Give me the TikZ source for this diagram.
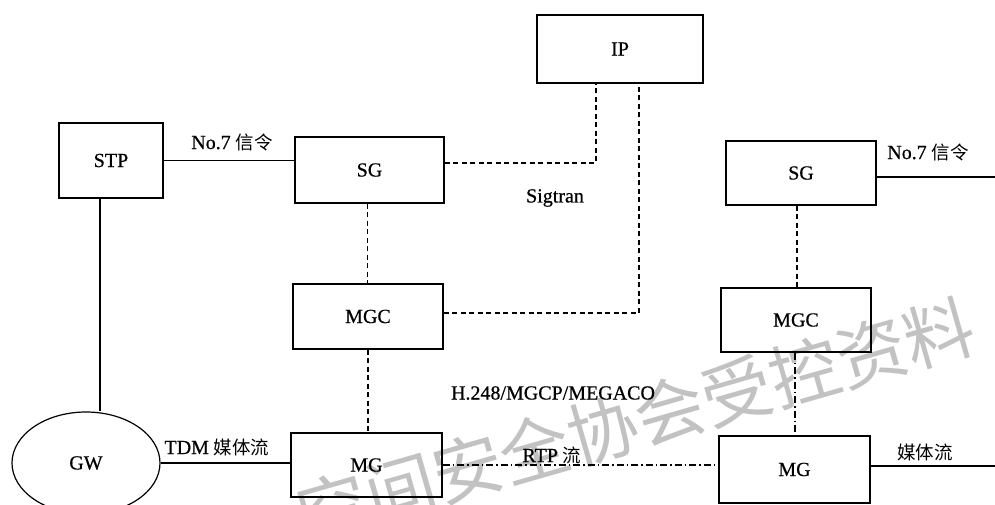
\documentclass[tikz,border=0pt]{standalone}
\usepackage{fontspec}
\setmainfont{Liberation Serif}[FakeBold=0.6]
\newfontfamily\cjk{Noto Sans CJK SC}
\newfontfamily\wmfont{Noto Sans CJK SC}
\usetikzlibrary{shapes.geometric}
\newcommand{\zh}[1]{{\cjk\fontsize{18.5}{22}\selectfont #1}}
\begin{document}
\begin{tikzpicture}[x=1pt,y=-1pt,
  lbl/.style={font=\fontsize{20}{23}\selectfont, inner sep=0pt},
  box/.style={draw, line width=1.2pt, inner sep=0pt, font=\fontsize{20}{23}\selectfont},
  solidline/.style={line width=1.2pt},
  dsh/.style={line width=1.1pt, dash pattern=on 5pt off 3.5pt},
  dshdot/.style={line width=1.1pt, dash pattern=on 7pt off 3pt on 1.5pt off 3pt},
  wmark/.style={text=black!24, inner sep=0pt, font=\wmfont\fontsize{70}{70}\selectfont}]
\useasboundingbox (0,0) rectangle (995,505);
\clip (0,0) rectangle (995,505);
\fill[white] (0,0) rectangle (995,505);
% watermark
\node[wmark, rotate=16] (wm) at (636,420) {空间安全协会受控资料};
% nodes
\node[box, minimum width=104pt, minimum height=75pt] (STP) at (111,160.5) {STP};
\node[box, minimum width=149pt, minimum height=66pt] (SG1) at (369.5,170) {SG};
\node[box, minimum width=166pt, minimum height=68pt] (IP) at (620,49) {IP};
\node[box, minimum width=150pt, minimum height=65pt] (MGC1) at (368,316.5) {MGC};
\node[box, minimum width=151pt, minimum height=64pt] (MG1) at (366.5,465) {MG};
\node[box, minimum width=150pt, minimum height=64pt] (SG2) at (801,173) {SG};
\node[box, minimum width=150pt, minimum height=64pt] (MGC2) at (796,320) {MGC};
\node[box, minimum width=151pt, minimum height=67pt] (MG2) at (794.5,469.5) {MG};
\node[box, ellipse, minimum width=148pt, minimum height=102pt] (GW) at (86,463) {GW};
\coordinate (r1) at (995,177);
\coordinate (r2) at (995,466);
% labels
\node[lbl] (l1) at (232,142) {No.7 \zh{信令}};
\node[lbl] (l2) at (555,198) {Sigtran};
\node[lbl] (l3) at (553,393) {H.248/MGCP/MEGACO};
\node[lbl] (l4) at (217,447) {TDM \zh{媒体流}};
\node[lbl] (l5) at (552,455) {RTP \zh{流}};
\node[lbl] (l6) at (928,152) {No.7 \zh{信令}};
\node[lbl] (l7) at (925,452) {\zh{媒体流}};
% connectors
\draw[solidline] (STP.east) -- (STP.east -| SG1.west);
\draw[solidline] ([xshift=-11pt]STP.south) -- ([xshift=-11pt]STP.south |- GW.north);
\draw[solidline] (GW.east) -- (GW.east -| MG1.west);
\draw[dsh] ([yshift=7pt]SG1.east) -| ([xshift=-24pt]IP.south);
\draw[dsh] ([yshift=3.5pt]MGC1.east) -| ([xshift=19pt]IP.south);
\draw[dsh] ([xshift=-2pt]SG1.south) -- ([xshift=-2pt]SG1.south |- MGC1.north);
\draw[dsh] (MGC1.south) -- (MGC1.south |- MG1.north);
\draw[dshdot] (MG1.east) -- (MG1.east -| MG2.west);
\draw[dsh] ([xshift=-4pt]SG2.south) -- ([xshift=-4pt]SG2.south |- MGC2.north);
\draw[dshdot] ([xshift=-1pt]MGC2.south) -- ([xshift=-1pt]MGC2.south |- MG2.north);
\draw[solidline] (SG2.east |- r1) -- (r1);
\draw[solidline] (MG2.east |- r2) -- (r2);
\end{tikzpicture}
\end{document}
